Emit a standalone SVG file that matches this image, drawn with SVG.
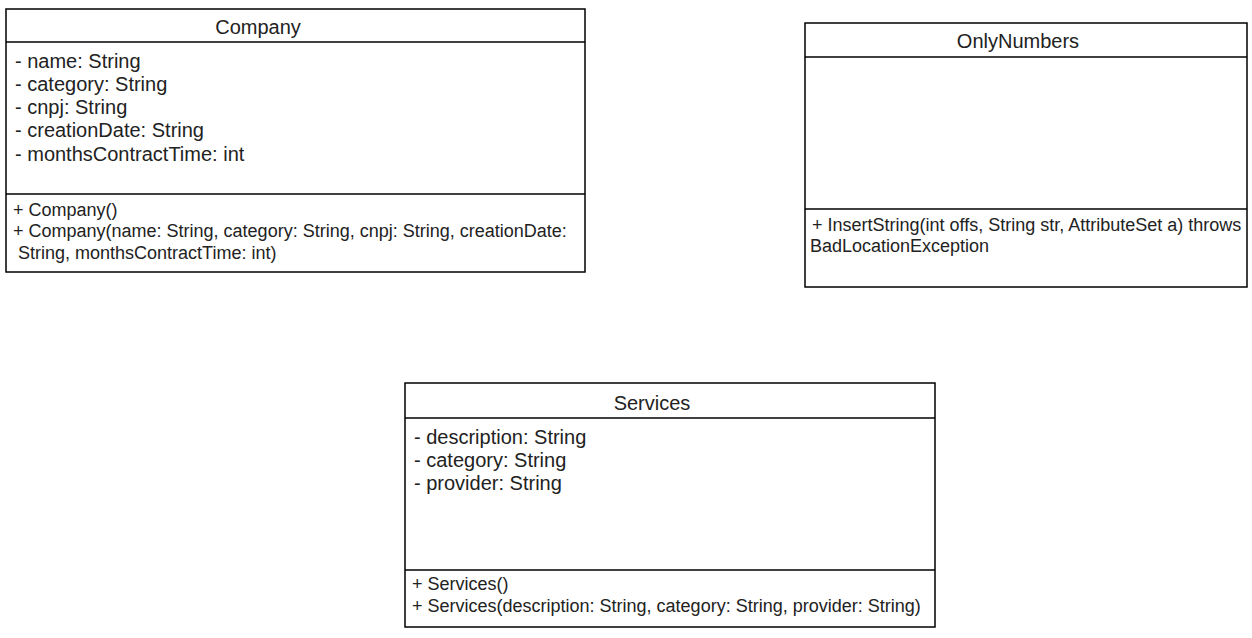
<svg xmlns="http://www.w3.org/2000/svg" width="1252" height="638" viewBox="0 0 1252 638">
<style>
.box{fill:#fff;stroke:#000;stroke-width:1.5}
.ln{stroke:#000;stroke-width:1.5}
.t{font-family:"Liberation Sans",Arial,sans-serif;fill:#222}
.title{font-size:20px;text-anchor:middle}
.attr{font-size:20px}
.meth{font-size:18px}
</style>
<rect width="1252" height="638" fill="#fff"/>
<g id="company">
<rect class="box" x="6" y="9" width="579" height="263"/>
<line class="ln" x1="6" y1="42" x2="585" y2="42"/>
<line class="ln" x1="6" y1="194" x2="585" y2="194"/>
<text class="t title" x="258" y="34">Company</text>
<text class="t attr" x="15" y="68">- name: String</text>
<text class="t attr" x="15" y="91">- category: String</text>
<text class="t attr" x="15" y="114">- cnpj: String</text>
<text class="t attr" x="15" y="137">- creationDate: String</text>
<text class="t attr" x="15" y="161">- monthsContractTime: int</text>
<text class="t meth" x="13" y="216">+ Company()</text>
<text class="t meth" x="13" y="237">+ Company(name: String, category: String, cnpj: String, creationDate:</text>
<text class="t meth" x="18" y="259">String, monthsContractTime: int)</text>
</g>
<g id="onlynumbers">
<rect class="box" x="805" y="23" width="442" height="264"/>
<line class="ln" x1="805" y1="57" x2="1247" y2="57"/>
<line class="ln" x1="805" y1="209" x2="1247" y2="209"/>
<text class="t title" x="1018" y="48">OnlyNumbers</text>
<text class="t meth" x="812" y="231">+ InsertString(int offs, String str, AttributeSet a) throws</text>
<text class="t meth" x="810" y="252">BadLocationException</text>
</g>
<g id="services">
<rect class="box" x="405" y="383" width="530" height="244"/>
<line class="ln" x1="405" y1="418" x2="935" y2="418"/>
<line class="ln" x1="405" y1="570" x2="935" y2="570"/>
<text class="t title" x="652" y="410">Services</text>
<text class="t attr" x="414" y="444">- description: String</text>
<text class="t attr" x="414" y="467">- category: String</text>
<text class="t attr" x="414" y="490">- provider: String</text>
<text class="t meth" x="412" y="590">+ Services()</text>
<text class="t meth" x="412" y="612">+ Services(description: String, category: String, provider: String)</text>
</g>
<g id="connectors"></g>
</svg>
